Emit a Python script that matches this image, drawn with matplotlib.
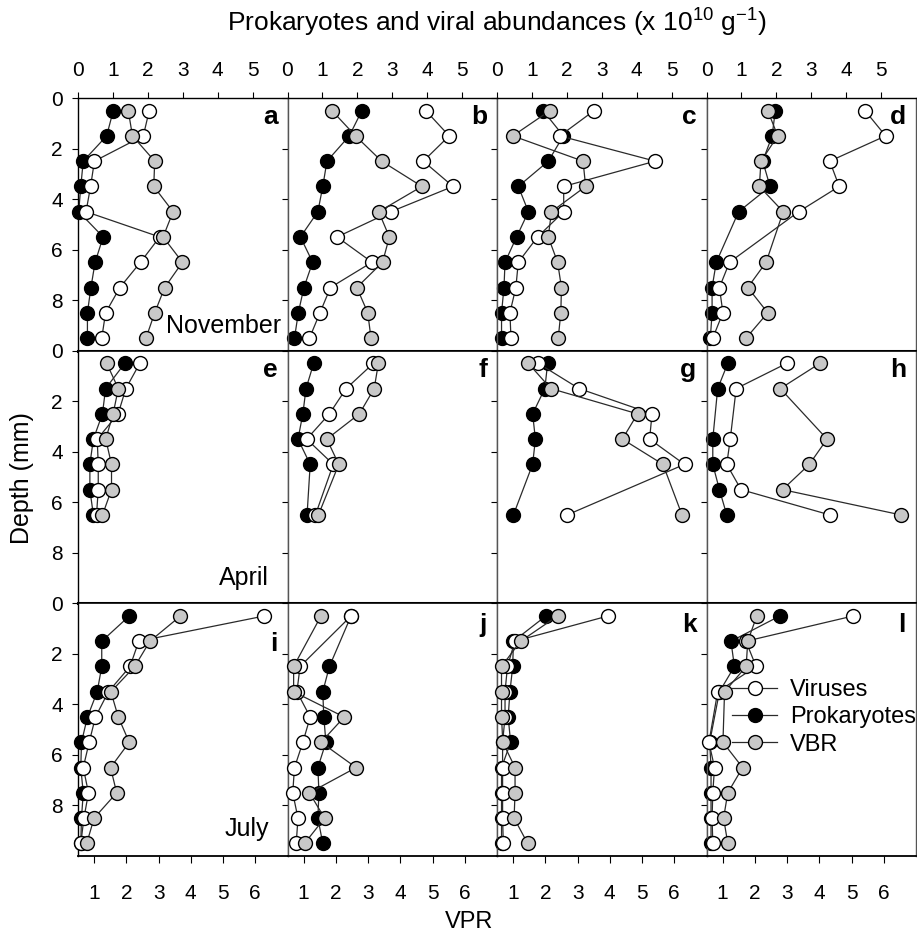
import matplotlib
matplotlib.use("Agg")
import matplotlib.pyplot as plt

plt.rcParams['font.family'] = ['Liberation Sans', 'DejaVu Sans']
plt.rcParams['mathtext.fontset'] = 'custom'
plt.rcParams['mathtext.rm'] = 'Liberation Sans'
plt.rcParams['mathtext.it'] = 'Liberation Sans:italic'
plt.rcParams['mathtext.bf'] = 'Liberation Sans:bold'

# ---------------- data ----------------
panel_letters = [['a', 'b', 'c', 'd'], ['e', 'f', 'g', 'h'], ['i', 'j', 'k', 'l']]
months = ['November', 'April', 'July']

full10 = [0.5, 1.5, 2.5, 3.5, 4.5, 5.5, 6.5, 7.5, 8.5, 9.5]

# November (a-d)
nov_depth = [full10, full10, full10,
             [0.5, 1.5, 2.5, 3.5, 4.5, 6.5, 7.5, 8.5, 9.5]]
nov_prok = [[1.01, 0.82, 0.15, 0.08, 0.02, 0.72, 0.49, 0.37, 0.27, 0.27],
            [2.13, 1.77, 1.13, 1.01, 0.87, 0.37, 0.72, 0.47, 0.31, 0.20],
            [1.32, 1.90, 1.47, 0.61, 0.90, 0.56, 0.23, 0.20, 0.13, 0.13],
            [1.97, 1.88, 1.61, 1.82, 0.92, 0.28, 0.16, 0.16, 0.11]]
nov_vir = [[2.04, 1.87, 0.47, 0.36, 0.23, 2.34, 1.79, 1.20, 0.79, 0.68],
           [3.96, 4.63, 3.89, 4.74, 2.96, 1.42, 2.42, 1.23, 0.93, 0.63],
           [2.78, 1.80, 4.53, 1.91, 1.91, 1.16, 0.61, 0.54, 0.37, 0.40],
           [4.54, 5.13, 3.53, 3.80, 2.64, 0.66, 0.37, 0.47, 0.18]]
nov_vpr = [[2.06, 2.19, 2.88, 2.85, 3.45, 3.14, 3.74, 3.19, 2.88, 2.61],
           [1.88, 2.61, 3.42, 4.67, 3.33, 3.66, 3.45, 2.65, 2.99, 3.09],
           [2.14, 0.99, 3.17, 3.25, 2.19, 2.09, 2.38, 2.50, 2.48, 2.40],
           [2.40, 2.71, 2.19, 2.14, 2.88, 2.35, 1.78, 2.40, 1.73]]

# April (e-h)
apr_depth = [[0.5, 1.5, 2.5, 3.5, 4.5, 5.5, 6.5],
             [0.5, 1.5, 2.5, 3.5, 4.5, 6.5],
             [0.5, 1.5, 2.5, 3.5, 4.5, 6.5],
             [0.5, 1.5, 3.5, 4.5, 5.5, 6.5]]
apr_prok = [[1.34, 0.79, 0.70, 0.44, 0.34, 0.34, 0.44],
            [0.75, 0.53, 0.44, 0.30, 0.65, 0.56],
            [1.45, 1.37, 1.02, 1.10, 1.02, 0.47],
            [0.61, 0.32, 0.18, 0.18, 0.37, 0.58]]
apr_vir = [[1.77, 1.37, 1.15, 0.55, 0.58, 0.58, 0.53],
           [2.46, 1.68, 1.20, 0.55, 1.31, 0.80],
           [1.18, 2.35, 4.44, 4.37, 5.37, 2.01],
           [2.30, 0.85, 0.68, 0.58, 0.99, 3.53]]
apr_vpr = [[1.39, 1.75, 1.59, 1.36, 1.54, 1.54, 1.26],
           [3.32, 3.19, 2.73, 1.72, 2.09, 1.46],
           [1.47, 2.17, 4.86, 4.39, 5.65, 6.24],
           [4.02, 2.79, 4.24, 3.69, 2.86, 6.53]]

# July (i-l)
jul_depth = [full10,
             [0.5, 2.5, 3.5, 4.5, 5.5, 6.5, 7.5, 8.5, 9.5],
             full10,
             [0.5, 1.5, 2.5, 3.5, 5.5, 6.5, 7.5, 8.5, 9.5]]
jul_prok = [[1.47, 0.68, 0.68, 0.55, 0.27, 0.10, 0.08, 0.15, 0.10, 0.08],
            [1.82, 1.20, 1.01, 1.04, 1.10, 0.87, 0.90, 0.87, 1.01],
            [1.40, 0.47, 0.45, 0.37, 0.32, 0.39, 0.13, 0.13, 0.13, 0.13],
            [2.10, 0.70, 0.80, 0.37, 0.09, 0.13, 0.13, 0.13, 0.13]]
jul_vir = [[5.34, 1.74, 1.49, 0.87, 0.50, 0.32, 0.15, 0.30, 0.17, 0.08],
           [1.82, 0.36, 0.27, 0.65, 0.44, 0.20, 0.15, 0.30, 0.25],
           [3.18, 0.51, 0.30, 0.23, 0.23, 0.16, 0.16, 0.16, 0.16, 0.18],
           [4.20, 1.13, 1.42, 0.32, 0.07, 0.23, 0.18, 0.16, 0.18]]
jul_vpr = [[3.68, 2.73, 2.26, 1.52, 1.75, 2.09, 1.51, 1.70, 1.00, 0.77],
           [1.54, 0.69, 0.69, 2.26, 1.54, 2.63, 1.18, 1.65, 1.03],
           [2.38, 1.23, 0.64, 0.64, 0.64, 0.68, 1.06, 1.06, 1.03, 1.45],
           [2.06, 1.78, 1.73, 1.06, 1.01, 1.62, 1.16, 1.03, 1.16]]

depths = [nov_depth, apr_depth, jul_depth]
prok = [nov_prok, apr_prok, jul_prok]
vir = [nov_vir, apr_vir, jul_vir]
vpr = [nov_vpr, apr_vpr, jul_vpr]

abund_ticks = [0, 1, 2, 3, 4, 5]
vpr_ticks = [1, 2, 3, 4, 5, 6]
depth_ticks = [0, 2, 4, 6, 8]

# ---------------- figure ----------------
W, H = 917, 941
fig = plt.figure(figsize=(W / 100, H / 100), dpi=100)
gs = fig.add_gridspec(3, 4, left=78 / W, right=916 / W, top=1 - 98 / H,
                      bottom=1 - 856 / H, wspace=0, hspace=0)

grey = '#c8c8c8'
lc = '#2a2a2a'
ms = 10
lw = 0.9
tick_fs = 15

month_pos = [(0.971, 0.071), (0.91, 0.071), (0.91, 0.079)]
letter_y = [[0.897] * 4, [0.897] * 4, [0.81, 0.885, 0.885, 0.885]]

for r in range(3):
    for c in range(4):
        ax = fig.add_subplot(gs[r, c])
        ax.set_xlim(0, 6)
        ax.set_ylim(10, 0)
        ax2 = ax.twiny()
        ax2.set_xlim(0.5, 7.0)

        d = depths[r][c]
        hp, = ax.plot(prok[r][c], d, '-o', color=lc, lw=lw, ms=ms,
                      mfc='black', mec='black', mew=1.0, clip_on=False, zorder=2)
        hv, = ax.plot(vir[r][c], d, '-o', color=lc, lw=lw, ms=ms,
                      mfc='white', mec='black', mew=1.0, clip_on=False, zorder=3)
        hg, = ax2.plot(vpr[r][c], d, '-o', color=lc, lw=lw, ms=ms,
                       mfc=grey, mec='black', mew=1.0, clip_on=False, zorder=3)

        # spines
        for s in ax2.spines.values():
            s.set_visible(False)
        for name, s in ax.spines.items():
            s.set_linewidth(1.0)
            s.set_color('#555555')
        ax.spines['top'].set_color('black')
        ax.spines['bottom'].set_color('black')
        if r < 2:
            ax.spines['bottom'].set_linewidth(2.2)
        if r > 0:
            ax.spines['top'].set_linewidth(1.2)
        if r == 2:
            ax.spines['bottom'].set_linewidth(1.3)
        if c == 0:
            ax.spines['left'].set_color('black')

        # abundance axis on top
        ax.xaxis.set_ticks_position('top')
        if r == 0:
            ax.set_xticks(abund_ticks)
            ax.tick_params(axis='x', which='both', direction='out', length=4,
                           width=0.8, pad=9, labelsize=tick_fs, top=True,
                           bottom=False, labeltop=True, labelbottom=False)
        else:
            ax.set_xticks([])

        # VPR axis on bottom
        ax2.xaxis.set_ticks_position('bottom')
        ax2.xaxis.set_label_position('bottom')
        if r == 2:
            ax2.set_xticks(vpr_ticks)
            ax2.tick_params(axis='x', which='both', direction='out', length=5,
                            width=0.8, pad=15, labelsize=tick_fs, bottom=True,
                            top=False, labelbottom=True, labeltop=False)
        else:
            ax2.set_xticks([])

        # depth axis
        ax.set_yticks(depth_ticks)
        ax.tick_params(axis='y', direction='out', length=4, width=0.8,
                       pad=7, labelsize=tick_fs, right=False)
        if c != 0:
            ax.set_yticklabels([])

        ax2.text(0.952, letter_y[r][c], panel_letters[r][c], transform=ax.transAxes,
                 ha='right', va='baseline', fontsize=19, fontweight='bold', zorder=10)
        if c == 0:
            ax2.text(month_pos[r][0], month_pos[r][1], months[r], transform=ax.transAxes,
                     ha='right', va='baseline', fontsize=18, zorder=10)

        if r == 2 and c == 3:
            ax2.legend([hv, hp, hg], ['Viruses', 'Prokaryotes', 'VBR'],
                       loc='upper left', bbox_to_anchor=(0.124, 0.70),
                       bbox_transform=ax.transAxes, frameon=False, borderpad=0,
                       borderaxespad=0, handlelength=1.9, handletextpad=0.55,
                       labelspacing=0.22, fontsize=17, numpoints=1)

fig.text(497 / W, 1 - 23 / H,
         'Prokaryotes and viral abundances (x 10$^{10}$ g$^{-1}$)',
         ha='center', va='center', fontsize=19)
fig.text(22 / W, 1 - 478 / H, 'Depth (mm)', rotation=90,
         ha='center', va='center', fontsize=18)
fig.text(469 / W, 1 - 922 / H, 'VPR', ha='center', va='center', fontsize=17)

fig.savefig('out.png', dpi=100)
